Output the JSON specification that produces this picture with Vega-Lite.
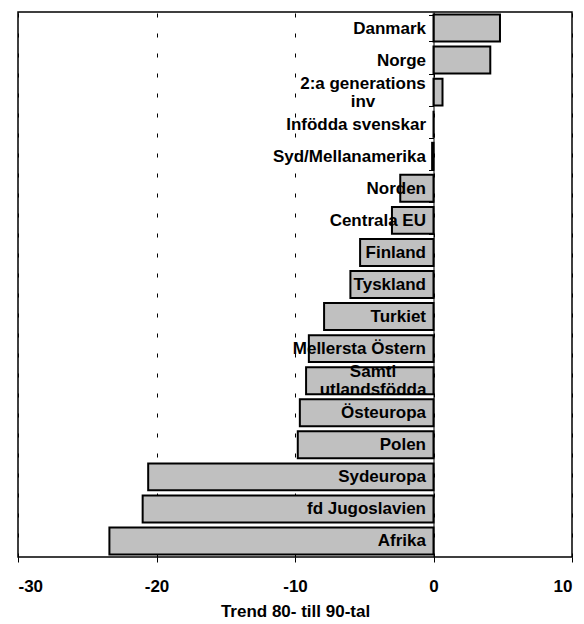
{
  "$schema": "https://vega.github.io/schema/vega-lite/v6.json",
  "width": 554,
  "height": 545,
  "autosize": {"type": "none"},
  "padding": {"left": 18, "top": 12, "right": 12, "bottom": 67},
  "config": {
    "view": {"stroke": "black", "strokeWidth": 1.5},
    "font": "Liberation Sans"
  },
  "data": {
    "values": [
      {"region": "Danmark", "trend": 4.8},
      {"region": "Norge", "trend": 4.1},
      {"region": "2:a generations inv", "trend": 0.65},
      {"region": "Infödda svenskar", "trend": 0},
      {"region": "Syd/Mellanamerika", "trend": -0.1},
      {"region": "Norden", "trend": -2.4},
      {"region": "Centrala EU", "trend": -3.0},
      {"region": "Finland", "trend": -5.3},
      {"region": "Tyskland", "trend": -6.0},
      {"region": "Turkiet", "trend": -7.9},
      {"region": "Mellersta Östern", "trend": -9.0},
      {"region": "Samtl utlandsfödda", "trend": -9.2},
      {"region": "Östeuropa", "trend": -9.65},
      {"region": "Polen", "trend": -9.8},
      {"region": "Sydeuropa", "trend": -20.6},
      {"region": "fd Jugoslavien", "trend": -21.0},
      {"region": "Afrika", "trend": -23.4}
    ]
  },
  "mark": {"type": "bar", "fill": "#c0c0c0", "stroke": "black", "strokeWidth": 2},
  "encoding": {
    "y": {
      "field": "region",
      "type": "nominal",
      "sort": null,
      "scale": {"paddingInner": 0.16, "paddingOuter": 0.08},
      "axis": {
        "title": null,
        "offset": -415.5,
        "zindex": 1,
        "domainColor": "black",
        "domainWidth": 1,
        "tickBand": "extent",
        "tickSize": 5,
        "tickColor": "black",
        "labelPadding": {"condition": [{"test": "datum.value == '2:a generations inv'", "value": 66}, {"test": "datum.value == 'Samtl utlandsfödda'", "value": 56}], "value": 3},
        "labelAlign": {"condition": {"test": "datum.value == '2:a generations inv' || datum.value == 'Samtl utlandsfödda'", "value": "center"}, "value": "right"},
        "labelFont": "Liberation Sans",
        "labelFontSize": 17,
        "labelFontWeight": "bold",
        "labelColor": "black",
        "labelLimit": 400,
        "labelLineHeight": 18,
        "labelOffset": {"condition": {"test": "datum.value == '2:a generations inv' || datum.value == 'Samtl utlandsfödda'", "value": -9}, "value": 0},
        "labelExpr": "datum.label == '2:a generations inv' ? ['2:a generations', 'inv'] : datum.label == 'Samtl utlandsfödda' ? ['Samtl', 'utlandsfödda'] : datum.label"
      }
    },
    "x": {
      "field": "trend",
      "type": "quantitative",
      "scale": {"domain": [-30, 10], "nice": false},
      "axis": {
        "values": [-30, -20, -10, 0, 10],
        "labelExpr": "'' + datum.value",
        "title": "Trend 80- till 90-tal",
        "grid": true,
        "gridColor": "black",
        "gridDash": [4, 16],
        "domain": false,
        "tickColor": "black",
        "tickSize": 5,
        "labelFont": "Liberation Sans",
        "labelFontSize": 17,
        "labelFontWeight": "bold",
        "labelColor": "black",
        "labelPadding": 16,
        "titleFont": "Liberation Sans",
        "titleFontSize": 17,
        "titleFontWeight": "bold",
        "titleColor": "black",
        "titlePadding": 9
      }
    }
  }
}
